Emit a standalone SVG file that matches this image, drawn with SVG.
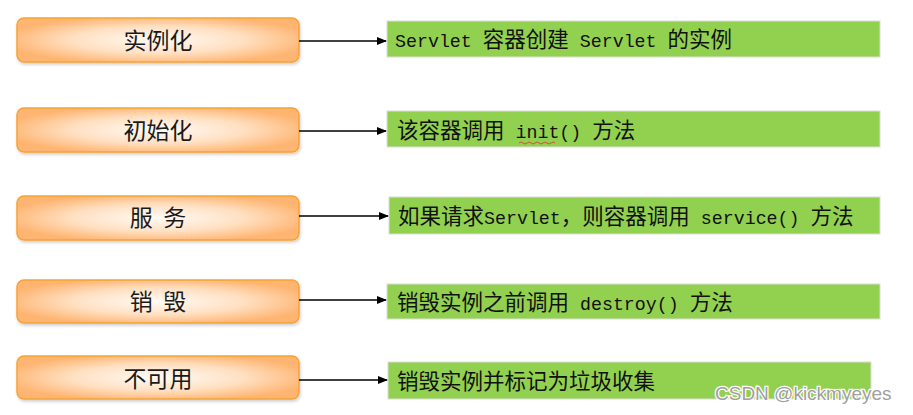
<svg xmlns="http://www.w3.org/2000/svg" width="913" height="415" viewBox="0 0 913 415">
<defs>
<radialGradient id="og" cx="50%" cy="50%" r="55%">
<stop offset="0" stop-color="#FFFAF5"/>
<stop offset="0.55" stop-color="#FFE0C2"/>
<stop offset="1" stop-color="#FFB572"/>
</radialGradient>
<filter id="sh" x="-5%" y="-20%" width="110%" height="150%">
<feDropShadow dx="1" dy="2" stdDeviation="1.5" flood-color="#000" flood-opacity="0.18"/>
</filter>
<marker id="ah" markerWidth="10" markerHeight="8" refX="9" refY="4" orient="auto" markerUnits="userSpaceOnUse">
<path d="M0,0 L10,4 L0,8 z" fill="#000"/>
</marker>
</defs>
<style>
.ob{fill:url(#og);stroke:#F7A335;stroke-width:1.5;filter:url(#sh)}
.ot{font-family:"Noto Sans CJK SC","Noto Sans",sans-serif;font-size:23px;fill:#1a1a1a;text-anchor:middle}
.gb{fill:#92D050;stroke:#dcdcdc;stroke-width:1}
.gt{font-family:"Noto Sans CJK SC",sans-serif;font-size:21.5px;fill:#111}
.m{font-family:"Liberation Mono","DejaVu Sans Mono",monospace;font-size:18.3px}
.cn line{stroke:#000;stroke-width:1.3;marker-end:url(#ah)}
.wm{font-family:"Liberation Sans","DejaVu Sans",sans-serif;font-size:19px;fill:#a0a0a0;stroke:#fff;stroke-width:2.5;paint-order:stroke}
</style>
<g id="n1"><rect class="ob" x="17" y="18" width="282" height="44" rx="7"/><text class="ot" x="158" y="49">实例化</text></g>
<g id="n2"><rect class="ob" x="17" y="108" width="282" height="44" rx="7"/><text class="ot" x="158" y="139">初始化</text></g>
<g id="n3"><rect class="ob" x="17" y="196" width="282" height="44" rx="7"/><text class="ot" x="158" y="226" xml:space="preserve">服  务</text></g>
<g id="n4"><rect class="ob" x="17" y="280" width="282" height="43" rx="7"/><text class="ot" x="158" y="310" xml:space="preserve">销  毁</text></g>
<g id="n5"><rect class="ob" x="17" y="356" width="282" height="43" rx="7"/><text class="ot" x="158" y="387">不可用</text></g>
<g id="d1"><rect class="gb" x="387" y="21" width="493" height="36"/><text class="gt" x="395" y="47" xml:space="preserve"><tspan class="m">Servlet </tspan>容器创建<tspan class="m"> Servlet </tspan>的实例</text></g>
<g id="d2"><rect class="gb" x="387" y="111" width="493" height="36"/><text class="gt" x="397" y="138" xml:space="preserve">该容器调用<tspan class="m"> init() </tspan>方法</text><path d="M519,143 q2,-2 4,0 t4,0 t4,0 t4,0 t4,0 t4,0 t4,0 t4,0 t4,0" fill="none" stroke="#e03030" stroke-width="0.8"/></g>
<g id="d3"><rect class="gb" x="389" y="197" width="491" height="37"/><text class="gt" x="398" y="224" xml:space="preserve">如果请求<tspan class="m">Servlet</tspan>，则容器调用<tspan class="m"> service() </tspan>方法</text></g>
<g id="d4"><rect class="gb" x="387" y="284" width="493" height="35"/><text class="gt" x="397" y="310" xml:space="preserve">销毁实例之前调用<tspan class="m"> destroy() </tspan>方法</text></g>
<g id="d5"><rect class="gb" x="388" y="362" width="483" height="37"/><text class="gt" x="397" y="389">销毁实例并标记为垃圾收集</text></g>
<g id="connectors" class="cn">
<line x1="299" y1="41" x2="386" y2="41"/>
<line x1="299" y1="131" x2="386" y2="131"/>
<line x1="299" y1="216" x2="388" y2="216"/>
<line x1="299" y1="300" x2="386" y2="300"/>
<line x1="299" y1="380" x2="387" y2="380"/>
</g>
<text class="wm" x="715" y="400">CSDN @kickmyeyes</text>
</svg>
